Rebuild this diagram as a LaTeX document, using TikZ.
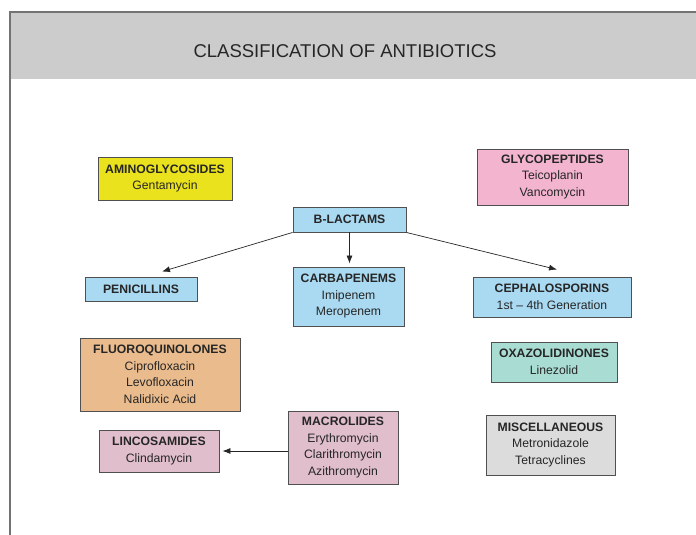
\documentclass[tikz,border=0pt]{standalone}
\usepackage{fontspec}
\setmainfont{Liberation Sans}
\usepackage{tikz}
\usetikzlibrary{arrows.meta,positioning}
\definecolor{amarillo}{HTML}{EAE21C}
\definecolor{celeste}{HTML}{AADAF2}
\definecolor{rosa}{HTML}{F3B4D0}
\definecolor{naranja}{HTML}{EABB8C}
\definecolor{malva}{HTML}{E0BECB}
\definecolor{turquesa}{HTML}{A9DDD4}
\definecolor{perla}{HTML}{DCDCDC}
\definecolor{banda}{HTML}{CCCCCC}
\definecolor{borde}{HTML}{505050}
\definecolor{tinta}{HTML}{262626}

\begin{document}
\begin{tikzpicture}[x=1pt, y=-1pt,
      caja/.style={rectangle, draw=borde, line width=0.9pt, inner sep=0pt,
                   align=center, text=tinta, font=\fontsize{12.2}{16.5}\selectfont},
      cajaamarilla/.style={caja, fill=amarillo},
      cajaazul/.style={caja, fill=celeste},
      cajarosa/.style={caja, fill=rosa},
      cajanaranja/.style={caja, fill=naranja},
      cajamalva/.style={caja, fill=malva},
      cajaturquesa/.style={caja, fill=turquesa},
      cajagris/.style={caja, fill=perla},
      flecha/.style={-{Latex[length=8pt,width=6pt]}, draw=tinta, line width=0.7pt}]

    \useasboundingbox (0,0) rectangle (696,535);
    % cabecera
    \fill[banda] (11,13) rectangle (696,79);
    \draw[borde!80, line width=2pt] (10,535) -- (10,12) -- (696,12);
    \node[text=tinta, font=\fontsize{18.5}{22}\selectfont] (titulo) at (345,51) {CLASSIFICATION OF ANTIBIOTICS};

    % grupos
    \node[cajaamarilla, minimum width=134, minimum height=43] (amino) at (165,178.5)
        {\textbf{AMINOGLYCOSIDES}\\Gentamycin};
    \node[cajaazul, minimum width=113, minimum height=25] (blact) at (349.5,219.5)
        {\textbf{B-LACTAMS}};
    \node[cajaazul, minimum width=112, minimum height=24] (peni) at (141,289)
        {\textbf{PENICILLINS}};
    \node[cajaazul, minimum width=111, minimum height=59] (carba) at (348.5,296.5)
        {\textbf{CARBAPENEMS}\\Imipenem\\Meropenem};
    \node[cajarosa, minimum width=151, minimum height=56] (glyco) at (552.5,177)
        {\textbf{GLYCOPEPTIDES}\\Teicoplanin\\Vancomycin};
    \node[cajaazul, minimum width=158, minimum height=40] (cefa) at (552,297)
        {\textbf{CEPHALOSPORINS}\\1st -- 4th Generation};
    \node[cajanaranja, minimum width=160, minimum height=73] (fluoro) at (160,374.5)
        {\textbf{FLUOROQUINOLONES}\\Ciprofloxacin\\Levofloxacin\\Nalidixic Acid};
    \node[cajamalva, minimum width=120, minimum height=42] (linco) at (159,451)
        {\textbf{LINCOSAMIDES}\\Clindamycin};
    \node[cajamalva, minimum width=110, minimum height=73] (macro) at (343,447.5)
        {\textbf{MACROLIDES}\\Erythromycin\\Clarithromycin\\Azithromycin};
    \node[cajaturquesa, minimum width=126, minimum height=40] (oxa) at (554,362)
        {\textbf{OXAZOLIDINONES}\\Linezolid};
    \node[cajagris, minimum width=129, minimum height=60] (misc) at (550.5,445)
        {\textbf{MISCELLANEOUS}\\Metronidazole\\Tetracyclines};

    \draw[flecha] (blact.south west) -- ([xshift=21pt, yshift=5pt]peni.north);
    \draw[flecha, shorten >=3pt] (blact.south) -- (blact.south |- carba.north);
    \draw[flecha] (blact.south east) -- ([xshift=5pt, yshift=7pt]cefa.north);
    \draw[flecha, shorten >=3pt] (macro.west |- linco.east) -- (linco.east);
  \end{tikzpicture}
\end{document}
